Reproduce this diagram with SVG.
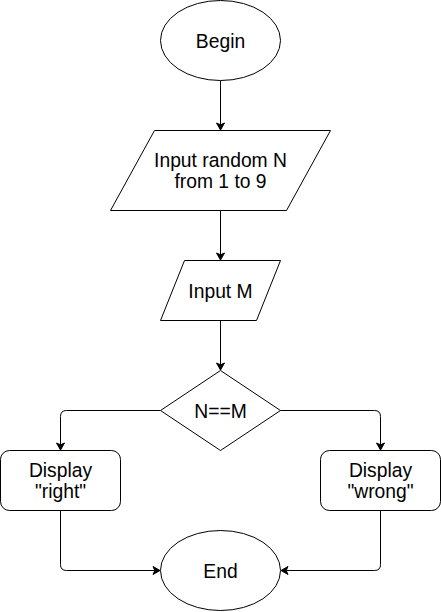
<svg xmlns="http://www.w3.org/2000/svg" width="441" height="612" viewBox="0 0 441 612">
<style>
.s{fill:#fff;stroke:#000;stroke-width:1}
.e{fill:none;stroke:#000;stroke-width:1}
text{font-family:"Liberation Sans",Arial,Helvetica,sans-serif;font-size:19.3px;fill:#000;text-anchor:middle}
</style>
<defs>
<marker id="arr" markerUnits="userSpaceOnUse" viewBox="-1 -6 12 12" markerWidth="12" markerHeight="12" refX="7" refY="0" orient="auto">
<path d="M0,-4 L7,0 L0,4 L1.8,0 Z" fill="#000" stroke="#000" stroke-width="1" stroke-linejoin="miter"/>
</marker>
</defs>
<rect width="441" height="612" fill="#fff"/>
<g id="connectors">
<path class="e" d="M220.5 80.5 V130" marker-end="url(#arr)"/>
<path class="e" d="M220.5 210.5 V260" marker-end="url(#arr)"/>
<path class="e" d="M220.5 320.5 V370" marker-end="url(#arr)"/>
<path class="e" d="M160.5 410.5 H66.5 Q60.5 410.5 60.5 416.5 V450" marker-end="url(#arr)"/>
<path class="e" d="M280.5 410.5 H374.5 Q380.5 410.5 380.5 416.5 V450" marker-end="url(#arr)"/>
<path class="e" d="M60.5 510.5 V564.5 Q60.5 570.5 66.5 570.5 H160" marker-end="url(#arr)"/>
<path class="e" d="M380.5 510.5 V564.5 Q380.5 570.5 374.5 570.5 H281" marker-end="url(#arr)"/>
</g>
<g id="begin">
<ellipse class="s" cx="220.5" cy="40.5" rx="60" ry="40"/>
<text x="220.5" y="47.5">Begin</text>
</g>
<g id="inputN">
<polygon class="s" points="154.5,130.5 330.5,130.5 286.5,210.5 110.5,210.5"/>
<text x="220.5" y="166.7">Input random N</text>
<text x="220.5" y="188.3">from 1 to 9</text>
</g>
<g id="inputM">
<polygon class="s" points="184.5,260.5 280.5,260.5 256.5,320.5 160.5,320.5"/>
<text x="220.5" y="297.5">Input M</text>
</g>
<g id="decision">
<polygon class="s" points="220.5,370.5 280.5,410.5 220.5,450.5 160.5,410.5"/>
<text x="220.5" y="417.5">N==M</text>
</g>
<g id="right">
<rect class="s" x="0.5" y="450.5" width="120" height="60" rx="9" ry="9"/>
<text x="60.5" y="476.5">Display</text>
<text x="60.5" y="498.1">"right"</text>
</g>
<g id="wrong">
<rect class="s" x="320.5" y="450.5" width="120" height="60" rx="9" ry="9"/>
<text x="380.5" y="476.5">Display</text>
<text x="380.5" y="498.1">"wrong"</text>
</g>
<g id="end">
<ellipse class="s" cx="220.5" cy="570.5" rx="60" ry="40"/>
<text x="220.5" y="577.5">End</text>
</g>
</svg>
